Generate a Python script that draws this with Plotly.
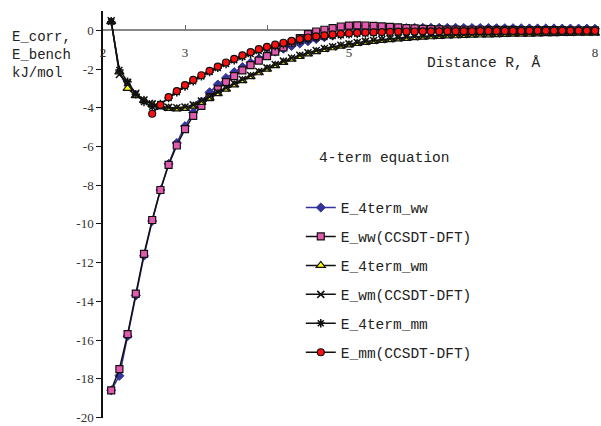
import plotly.graph_objects as go

# ---- data ----
R = [round(2.1 + 0.1 * i, 1) for i in range(60)]

E_4term_ww = [-18.6, -17.85, -15.8, -13.7, -11.65, -9.85, -8.25, -6.9, -5.82, -4.95,
              -4.25, -3.68, -3.2, -2.8, -2.46, -2.16, -1.9, -1.67, -1.46, -1.27,
              -1.1, -0.95, -0.81, -0.68, -0.56, -0.45, -0.35, -0.26, -0.18, -0.11,
              -0.05, 0.0, 0.04, 0.07, 0.09, 0.11, 0.12, 0.13, 0.13, 0.13,
              0.13, 0.13, 0.13, 0.12, 0.12, 0.12, 0.12, 0.11, 0.11, 0.11,
              0.11, 0.1, 0.1, 0.1, 0.1, 0.09, 0.09, 0.09, 0.09, 0.08]

E_ww_ccsdt = [-18.6, -17.5, -15.7, -13.6, -11.55, -9.8, -8.25, -6.95, -5.95, -5.1,
              -4.42, -3.9, -3.45, -3.05, -2.68, -2.36, -2.07, -1.8, -1.56, -1.33,
              -1.1, -0.88, -0.64, -0.4, -0.2, -0.06, 0.03, 0.12, 0.2, 0.24,
              0.26, 0.25, 0.23, 0.21, 0.18, 0.15, 0.12, 0.1, 0.08, 0.06,
              0.05, 0.04, 0.04, 0.03, 0.03, 0.03, 0.02, 0.02, 0.02, 0.02,
              0.01, 0.01, 0.01, 0.01, 0.01, 0.01, 0.0, 0.0, 0.0, 0.0]

E_4term_wm = [0.45, -2.15, -3.0, -3.37, -3.62, -3.82, -3.95, -4.03, -4.06, -4.03,
              -3.92, -3.72, -3.5, -3.27, -3.04, -2.82, -2.6, -2.39, -2.19, -2.0,
              -1.82, -1.65, -1.49, -1.35, -1.22, -1.1, -0.99, -0.9, -0.82, -0.75,
              -0.68, -0.62, -0.57, -0.52, -0.48, -0.44, -0.41, -0.38, -0.35, -0.33,
              -0.31, -0.29, -0.28, -0.26, -0.25, -0.24, -0.23, -0.22, -0.21, -0.2,
              -0.19, -0.19, -0.18, -0.17, -0.17, -0.16, -0.16, -0.15, -0.15, -0.14]

E_wm_ccsdt = [0.5, -2.28, -2.7, -3.25, -3.6, -3.8, -3.92, -3.98, -4.0, -3.96,
              -3.85, -3.65, -3.43, -3.2, -2.97, -2.75, -2.54, -2.33, -2.13, -1.94,
              -1.76, -1.59, -1.43, -1.29, -1.16, -1.04, -0.94, -0.85, -0.77, -0.7,
              -0.63, -0.57, -0.52, -0.47, -0.43, -0.39, -0.36, -0.33, -0.3, -0.28,
              -0.26, -0.24, -0.23, -0.21, -0.2, -0.19, -0.18, -0.17, -0.16, -0.15,
              -0.14, -0.14, -0.13, -0.12, -0.12, -0.11, -0.11, -0.1, -0.1, -0.1]

E_4term_mm = [0.45, -2.05, -2.65, -3.3, -3.7, -3.95, -3.8, -3.5, -3.2, -2.9,
              -2.63, -2.38, -2.15, -1.94, -1.74, -1.55, -1.38, -1.22, -1.07, -0.94,
              -0.82, -0.72, -0.62, -0.54, -0.46, -0.4, -0.34, -0.29, -0.25, -0.21,
              -0.18, -0.16, -0.14, -0.12, -0.11, -0.1, -0.09, -0.08, -0.07, -0.07,
              -0.06, -0.06, -0.06, -0.05, -0.05, -0.05, -0.05, -0.04, -0.04, -0.04,
              -0.04, -0.04, -0.03, -0.03, -0.03, -0.03, -0.03, -0.03, -0.03, -0.03]

E_mm_ccsdt = [None, None, None, None, None, -4.31, -3.85, -3.45, -3.14, -2.83,
              -2.56, -2.32, -2.09, -1.87, -1.66, -1.47, -1.29, -1.12, -0.97, -0.85,
              -0.74, -0.64, -0.54, -0.45, -0.37, -0.31, -0.26, -0.21, -0.18, -0.15,
              -0.13, -0.11, -0.1, -0.09, -0.08, -0.07, -0.06, -0.06, -0.05, -0.05,
              -0.05, -0.04, -0.04, -0.04, -0.04, -0.03, -0.03, -0.03, -0.03, -0.03,
              -0.03, -0.02, -0.02, -0.02, -0.02, -0.02, -0.02, -0.02, -0.02, -0.02]

y_ticks = list(range(-20, 1, 2))
x_ticks = [2, 3, 4, 5, 6, 7, 8]
x_ticklabels = ["2", "3", "", "5", "", "", "8"]  # 4, 6, 7 are hidden in the reference

MONO = "Liberation Mono"
SERIF = "Liberation Serif"

series = [
    ("E_4term_ww", E_4term_ww, dict(symbol="diamond", size=7, color="#333399",
                                    line=dict(color="#333399", width=1)), "#333399"),
    ("E_ww(CCSDT-DFT)", E_ww_ccsdt, dict(symbol="square", size=7, color="#E25AAE",
                                         line=dict(color="#111111", width=1.2)), "#111111"),
    ("E_4term_wm", E_4term_wm, dict(symbol="triangle-up", size=8, color="#FFFF00",
                                    line=dict(color="#111111", width=1.2)), "#111111"),
    ("E_wm(CCSDT-DFT)", E_wm_ccsdt, dict(symbol="x-thin", size=7, color="#111111",
                                         line=dict(color="#111111", width=1.5)), "#111111"),
    ("E_4term_mm", E_4term_mm, dict(symbol="asterisk", size=7, color="#111111",
                                    line=dict(color="#111111", width=1.5)), "#111111"),
    ("E_mm(CCSDT-DFT)", E_mm_ccsdt, dict(symbol="circle", size=7, color="#FF1010",
                                         line=dict(color="#111111", width=1.2)), "#111111"),
]

fig = go.Figure()
for i, (name, ys, marker, lc) in enumerate(series):
    fig.add_trace(go.Scatter(
        x=R, y=ys, name=name, mode="lines+markers",
        line=dict(color=lc, width=1.5), marker=marker,
        legendgroup=f"g{i}", cliponaxis=False,
    ))

fig.update_layout(
    width=601, height=426,
    margin=dict(l=103, r=6, t=11, b=8, autoexpand=False),
    paper_bgcolor="white", plot_bgcolor="white",
    showlegend=True,
    legend=dict(
        x=0.402, y=0.5563, xanchor="left", yanchor="top",
        font=dict(family=MONO, size=14.5, color="#222222"),
        bgcolor="rgba(0,0,0,0)", traceorder="grouped", tracegroupgap=7.1,
        itemwidth=30,
    ),
    xaxis=dict(
        range=[2, 8], anchor="free", position=20.03 / 21.03,
        tickvals=x_ticks, ticktext=x_ticklabels,
        ticks="inside", ticklen=5, tickcolor="#666666",
        showline=True, linecolor="#888888", linewidth=1.5,
        showgrid=False, zeroline=False, layer="below traces",
        tickfont=dict(family=SERIF, size=13, color="#333333"),
        ticklabelstandoff=10, automargin=False,
    ),
    yaxis=dict(
        range=[-20.03, 1],
        tickvals=y_ticks, ticktext=[str(v) for v in y_ticks],
        ticks="outside", ticklen=5, tickcolor="#111111",
        showline=True, linecolor="#111111", linewidth=1.5,
        showgrid=False, zeroline=False, layer="below traces",
        tickfont=dict(family=SERIF, size=13, color="#333333"),
        ticklabeloverflow="allow", automargin=False,
    ),
    annotations=[
        dict(text="E_corr,<br>E_bench<br>kJ/mol", xref="paper", yref="paper",
             x=-0.189, y=0.9605, xanchor="left", yanchor="top", align="left",
             showarrow=False, font=dict(family=MONO, size=14, color="#222222")),
        dict(text="4-term equation", xref="paper", yref="paper",
             x=0.435, y=0.639, xanchor="left", yanchor="middle",
             showarrow=False, font=dict(family=MONO, size=14.5, color="#222222")),
        dict(text="Distance R, Å", xref="paper", yref="paper",
             x=0.655, y=0.872, xanchor="left", yanchor="middle",
             showarrow=False,
             font=dict(family=MONO, size=14.5, color="#222222")),
    ],
)

fig.write_html("out.html")
